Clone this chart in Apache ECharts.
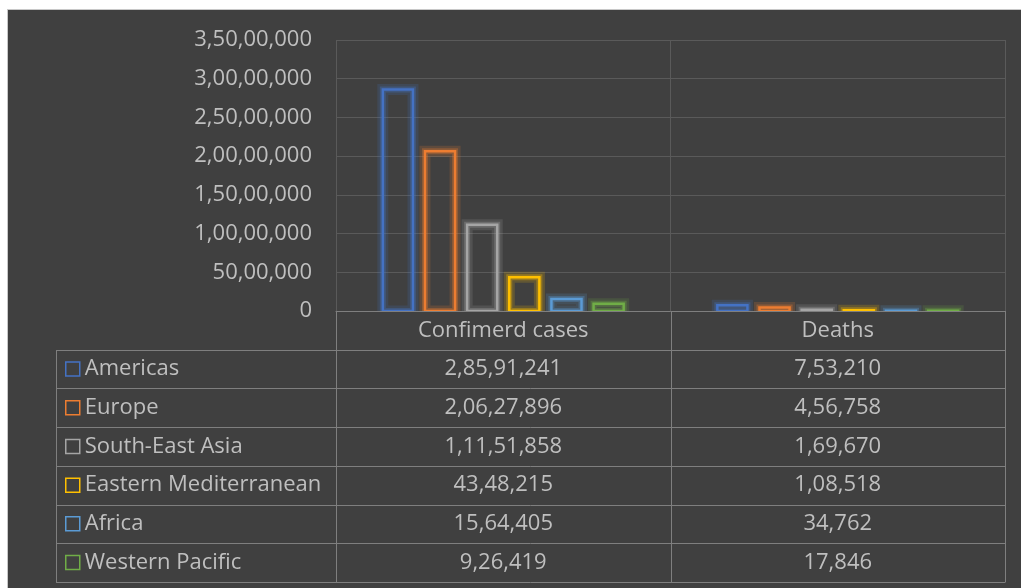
<!DOCTYPE html>
<html>
<head>
<meta charset="utf-8">
<script src="https://cdn.jsdelivr.net/npm/echarts@6/dist/echarts.min.js"></script>
<style>
  html, body { margin: 0; padding: 0; background: #ffffff; }
  #chart {
    position: absolute;
    left: 8px;
    top: 10px;
    width: 1013px;
    height: 578px;
    box-shadow: 0 0 0 1px #c8c8c8;
  }
</style>
</head>
<body>
<div id="chart"></div>
<script>
// data
const categories = ["Confimerd cases", "Deaths"];
const regions = ["Americas", "Europe", "South-East Asia", "Eastern Mediterranean", "Africa", "Western Pacific"];
const confirmed = [28591241, 20627896, 11151858, 4348215, 1564405, 926419];
const deaths = [753210, 456758, 169670, 108518, 34762, 17846];
const colors = ["#4472C4", "#ED7D31", "#A5A5A5", "#FFC000", "#5B9BD5", "#70AD47"];
const yMax = 35000000;
const yStep = 5000000;

// Indian digit grouping: 3,50,00,000
function fmtIN(n) {
  const s = String(Math.round(n));
  if (s.length <= 3) return s;
  const last3 = s.slice(-3);
  let rest = s.slice(0, -3);
  const parts = [];
  while (rest.length > 2) {
    parts.unshift(rest.slice(-2));
    rest = rest.slice(0, -2);
  }
  if (rest) parts.unshift(rest);
  return parts.join(",") + "," + last3;
}

function hexA(hex, a) {
  const v = parseInt(hex.slice(1), 16);
  return `rgba(${(v >> 16) & 255},${(v >> 8) & 255},${v & 255},${a})`;
}

const W = 1013, H = 578;
const GRID_LEFT = 328, GRID_RIGHT = 16, GRID_TOP = 30, GRID_BOTTOM = 277;
const ROW_H = 38.7;
const TABLE_LEFT = 48;
const TEXT = "#bfbfbf";
const FONT = "Open Sans";
const FS = 22;
const BAR_W = 0.09;   // bar width as share of a category band
const BAR_STEP = 0.126; // distance between neighbouring bars, same unit

const chart = echarts.init(document.getElementById("chart"));

// outlined bars with an Excel-like glow, laid out inside each category band
const series = regions.map((name, i) => ({
  name: name,
  type: "custom",
  clip: true,
  data: [[0, confirmed[i]], [1, deaths[i]]],
  encode: { x: 0, y: 1 },
  itemStyle: { color: "none", borderColor: colors[i] },
  renderItem: (params, api) => {
    const base = api.coord([api.value(0), 0]);
    const top = api.coord([api.value(0), api.value(1)]);
    const band = api.size([1, 0])[0];
    const w = band * BAR_W;
    const cx = base[0] + (i - (regions.length - 1) / 2) * band * BAR_STEP;
    const shape = { x: cx - w / 2, y: top[1], width: w, height: base[1] - top[1] };
    return {
      type: "group",
      children: [
        { type: "rect", shape: shape, style: { fill: "none", stroke: hexA(colors[i], 0.18), lineWidth: 11 } },
        { type: "rect", shape: shape, style: { fill: "none", stroke: hexA(colors[i], 0.33), lineWidth: 6 } },
        { type: "rect", shape: shape, style: { fill: "none", stroke: colors[i], lineWidth: 2.5 } },
      ],
    };
  },
}));

const plotBottom = H - GRID_BOTTOM;

chart.setOption({
  backgroundColor: "#404040",
  animation: false,
  textStyle: { fontFamily: FONT },
  grid: { left: GRID_LEFT, right: GRID_RIGHT, top: GRID_TOP, bottom: GRID_BOTTOM },
  legend: {
    orient: "vertical",
    left: 57,
    top: plotBottom + ROW_H * 1.5 - 11,
    padding: 0,
    icon: "rect",
    itemWidth: 14,
    itemHeight: 14,
    itemGap: ROW_H - 22,
    selectedMode: false,
    textStyle: { color: TEXT, fontSize: FS, lineHeight: 22, fontFamily: FONT },
    data: regions.map((n, i) => ({
      name: n,
      itemStyle: { color: "rgba(0,0,0,0)", borderColor: colors[i], borderWidth: 1.5 },
    })),
  },
  xAxis: {
    type: "category",
    data: categories,
    axisLine: { show: true, lineStyle: { color: "#7f7f7f", width: 1 } },
    axisTick: { show: false },
    splitLine: { show: true, lineStyle: { color: "#5a5a5a", width: 1 } },
    axisLabel: { color: TEXT, fontSize: FS, fontFamily: FONT, margin: ROW_H / 2, verticalAlign: "middle" },
  },
  yAxis: {
    type: "value",
    min: 0,
    max: yMax,
    interval: yStep,
    axisLine: { show: false },
    axisTick: { show: false },
    splitLine: { lineStyle: { color: "#5a5a5a", width: 1 } },
    axisLabel: { color: TEXT, fontSize: FS, fontFamily: FONT, margin: 24, formatter: (v) => fmtIN(v) },
  },
  series: series,
});

// data table under the plot
const plotRight = W - GRID_RIGHT;
const cx0 = chart.convertToPixel({ xAxisIndex: 0 }, categories[0]);
const cx1 = chart.convertToPixel({ xAxisIndex: 0 }, categories[1]);
const midX = (cx0 + cx1) / 2;
const lineStyle = { stroke: "#7f7f7f", lineWidth: 1 };
const els = [];
const tableBottom = plotBottom + ROW_H * (regions.length + 1);
// horizontal rules
for (let k = 1; k <= regions.length + 1; k++) {
  const y = Math.round(plotBottom + ROW_H * k) + 0.5;
  els.push({ type: "line", shape: { x1: TABLE_LEFT, y1: y, x2: plotRight, y2: y }, style: lineStyle, silent: true });
}
// vertical rules
[GRID_LEFT, midX, plotRight].forEach((x) => {
  const xx = Math.round(x) + 0.5;
  els.push({ type: "line", shape: { x1: xx, y1: plotBottom, x2: xx, y2: Math.round(tableBottom) + 0.5 }, style: lineStyle, silent: true });
});
els.push({ type: "line", shape: { x1: TABLE_LEFT + 0.5, y1: Math.round(plotBottom + ROW_H) + 0.5, x2: TABLE_LEFT + 0.5, y2: Math.round(tableBottom) + 0.5 }, style: lineStyle, silent: true });
// cell values
[confirmed, deaths].forEach((col, c) => {
  const cx = c === 0 ? cx0 : cx1;
  col.forEach((v, r) => {
    els.push({
      type: "text",
      x: cx,
      y: plotBottom + ROW_H * (r + 1) + ROW_H / 2,
      silent: true,
      style: { text: fmtIN(v), fill: TEXT, font: `${FS}px "${FONT}"`, align: "center", verticalAlign: "middle" },
    });
  });
});
chart.setOption({ graphic: els });
</script>
</body>
</html>
